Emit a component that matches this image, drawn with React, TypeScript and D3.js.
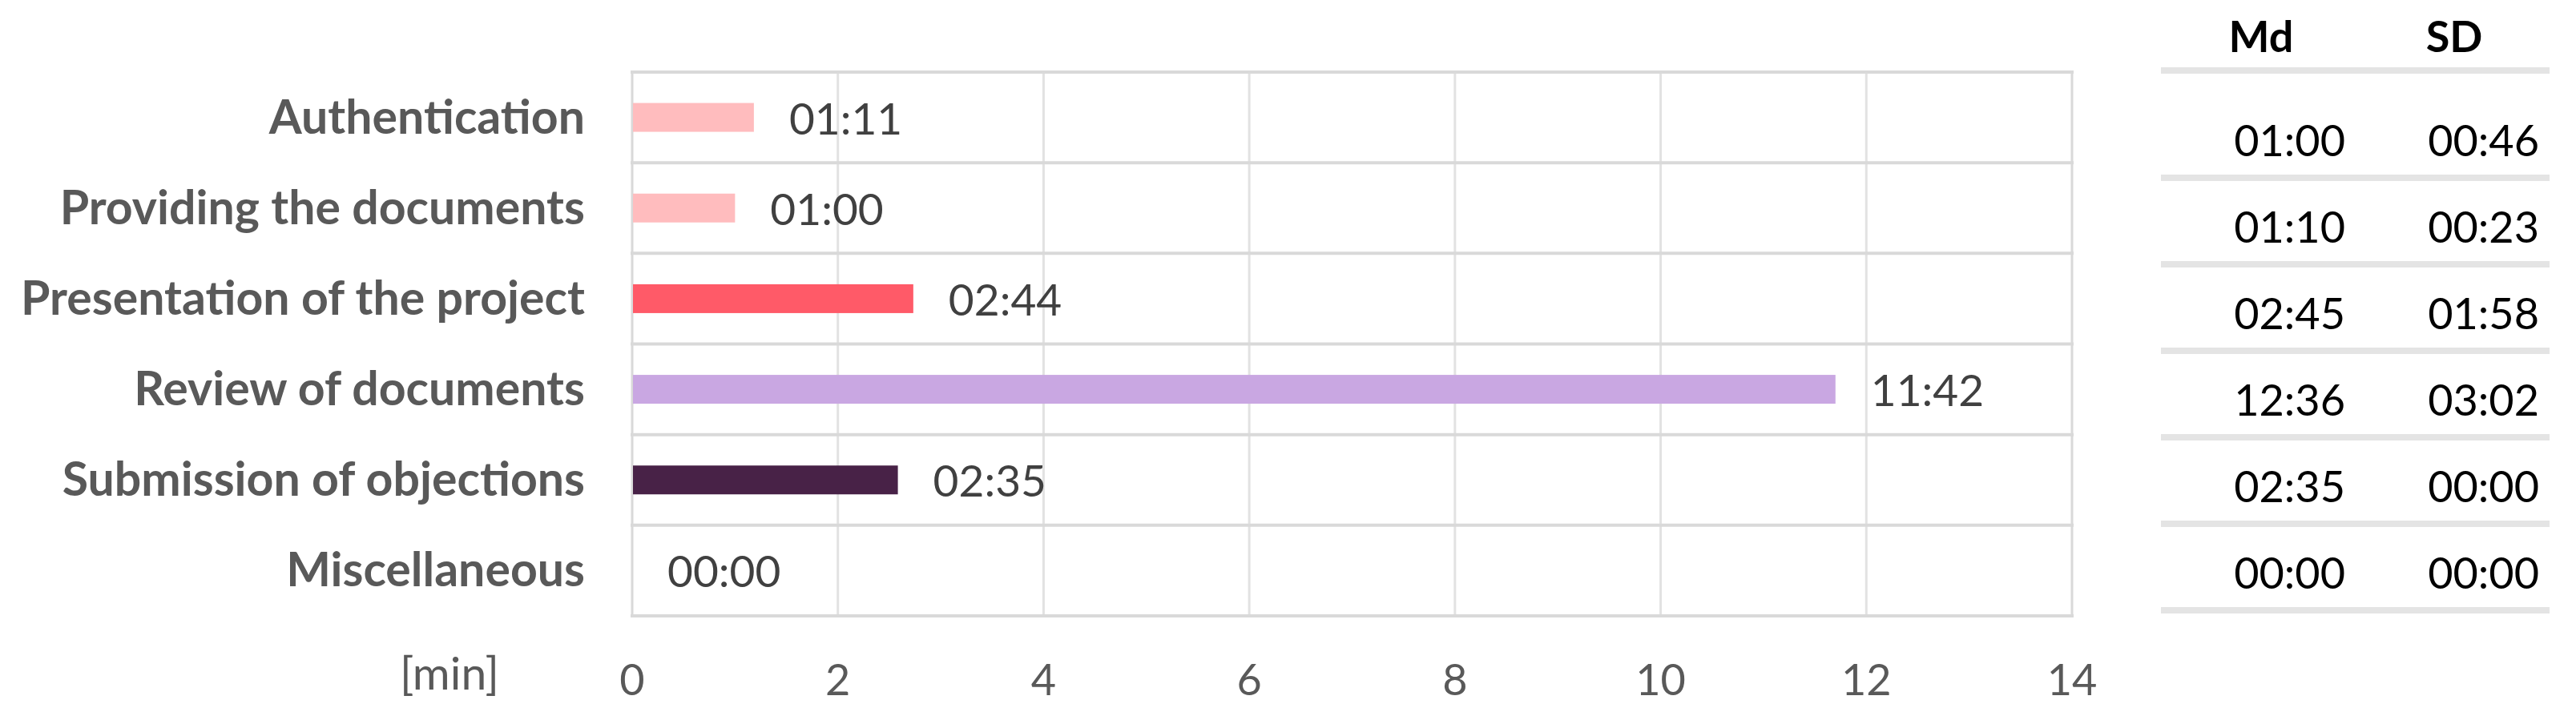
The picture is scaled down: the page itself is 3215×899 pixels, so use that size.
import React from 'react';
import * as d3 from 'd3';

const categories = [
  'Authentication',
  'Providing the documents',
  'Presentation of the project',
  'Review of documents',
  'Submission of objections',
  'Miscellaneous',
];
// mean duration per step, in seconds
const meanSeconds = [71, 60, 164, 702, 155, 0];
const barColors = ['#FFBCBE', '#FFBCBE', '#FF5A68', '#C9A7E2', '#482247', '#FFBCBE'];
const xTicks = [0, 2, 4, 6, 8, 10, 12, 14];
const tableHeaders = ['Md', 'SD'];
const mdLabels = ['01:00', '01:10', '02:45', '12:36', '02:35', '00:00'];
const sdLabels = ['00:46', '00:23', '01:58', '03:02', '00:00', '00:00'];

const W = 3215;
const H = 899;
const FONT = 'Lato, sans-serif';

const fmt = (s: number) => {
  const m = Math.floor(s / 60);
  const r = s % 60;
  return `${String(m).padStart(2, '0')}:${String(r).padStart(2, '0')}`;
};

const App = () => {
  const x = d3.scaleLinear().domain([0, 14]).range([789, 2586]);
  const y = d3.scaleBand().domain(categories).range([90, 769]);
  const barH = 36;

  // table on the right
  const rowY = d3.scalePoint().domain(categories).range([195, 735]);
  const colX = d3.scalePoint().domain(tableHeaders).range([2927, 3169]);
  const headX = d3.scalePoint().domain(tableHeaders).range([2822, 3063]);
  const tableLines = [88, ...categories.map((c) => (rowY(c) as number) + 27)];

  return (
    <svg
      width={W}
      height={H}
      style={{ position: 'absolute', left: 0, top: 0, display: 'block', background: '#fff' }}
    >
      {/* vertical gridlines */}
      {xTicks.map((t) => (
        <line
          key={'v' + t}
          x1={x(t)}
          x2={x(t)}
          y1={y.range()[0]}
          y2={y.range()[1]}
          stroke={t === 0 || t === 14 ? '#d9d9d9' : '#e2e2e2'}
          strokeWidth={3}
        />
      ))}
      {/* horizontal category lines */}
      {[...categories.map((c) => y(c) as number), y.range()[1]].map((yy, i) => (
        <line key={'h' + i} x1={x(0) - 2} x2={x(14) + 2} y1={yy} y2={yy} stroke="#d9d9d9" strokeWidth={4} />
      ))}

      {/* bars */}
      {categories.map((c, i) => {
        const cy = (y(c) as number) + y.bandwidth() / 2;
        const w = x(meanSeconds[i] / 60) - x(0);
        return (
          <g key={c}>
            {w > 0 && <rect x={x(0) + 1} y={cy - barH / 2} width={w - 1} height={barH} fill={barColors[i]} />}
            <text x={x(meanSeconds[i] / 60) + 44} y={cy + 21} fontFamily={FONT} fontSize={55} fill="#404040">
              {fmt(meanSeconds[i])}
            </text>
            <text
              x={730}
              y={cy + 20}
              textAnchor="end"
              fontFamily={FONT}
              fontWeight="bold"
              fontSize={59}
              fill="#595959"
            >
              {c}
            </text>
          </g>
        );
      })}

      {/* x axis labels */}
      {xTicks.map((t) => (
        <text key={'t' + t} x={x(t)} y={868} textAnchor="middle" fontFamily={FONT} fontSize={54} fill="#595959">
          {t}
        </text>
      ))}
      <text x={561} y={861} textAnchor="middle" fontFamily={FONT} fontSize={57} fill="#595959">
        [min]
      </text>

      {/* table */}
      {tableHeaders.map((h) => (
        <text key={h} x={headX(h)} y={65} textAnchor="middle" fontFamily={FONT} fontWeight="bold" fontSize={54} fill="#000">
          {h}
        </text>
      ))}
      {tableLines.map((ly, i) => (
        <line key={'tl' + i} x1={2697} x2={3182} y1={ly} y2={ly} stroke="#e4e4e4" strokeWidth={8} />
      ))}
      {categories.map((c, i) => (
        <g key={'r' + c}>
          <text x={colX('Md')} y={rowY(c)} textAnchor="end" fontFamily={FONT} fontSize={54} fill="#000">
            {mdLabels[i]}
          </text>
          <text x={colX('SD')} y={rowY(c)} textAnchor="end" fontFamily={FONT} fontSize={54} fill="#000">
            {sdLabels[i]}
          </text>
        </g>
      ))}
    </svg>
  );
};

export default App;
